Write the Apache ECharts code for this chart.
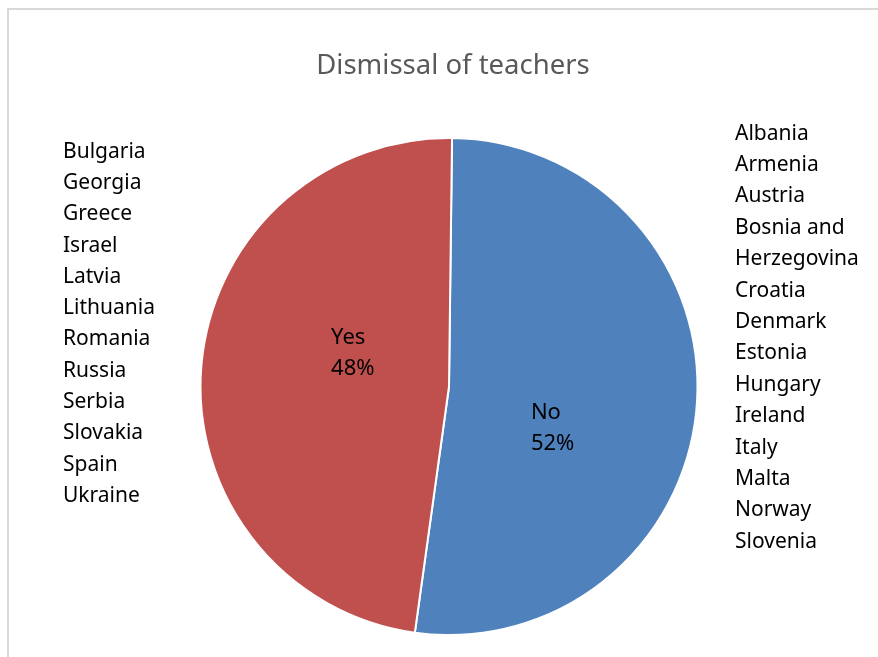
<!DOCTYPE html>
<html>
<head>
<meta charset="utf-8">
<script src="https://cdn.jsdelivr.net/npm/echarts@6/dist/echarts.min.js"></script>
<style>html,body{margin:0;padding:0;background:#fff;}#chart{width:878px;height:657px;}</style>
</head>
<body>
<div id="chart"></div>
<script>
var titleText = 'Dismissal of teachers';
var categories = ['No', 'Yes'];
var values = [13, 12];
var yesCountries = ['Bulgaria', 'Georgia', 'Greece', 'Israel', 'Latvia', 'Lithuania', 'Romania', 'Russia', 'Serbia', 'Slovakia', 'Spain', 'Ukraine'];
var noCountries = ['Albania', 'Armenia', 'Austria', 'Bosnia and Herzegovina', 'Croatia', 'Denmark', 'Estonia', 'Hungary', 'Ireland', 'Italy', 'Malta', 'Norway', 'Slovenia'];

var colors = ['#4F81BD', '#C0504D'];
var labelOffsets = [[-21, 32], [33, -24]];
var FONT = 'Noto Sans';

var chart = echarts.init(document.getElementById('chart'), null, {renderer: 'canvas'});
var option = {
  animation: false,
  backgroundColor: '#ffffff',
  title: {
    text: titleText,
    left: 448, top: 47, textAlign: 'center',
    textStyle: {fontFamily: FONT, fontSize: 27.5, fontWeight: 'normal', color: '#595959'}
  },
  graphic: [
    {type: 'rect', shape: {x: 8, y: 9, width: 900, height: 700}, style: {fill: 'none', stroke: '#d9d9d9', lineWidth: 2}, silent: true},
    {type: 'text', left: 63, top: 136, style: {text: yesCountries.join('\n'), font: '21px "Noto Sans"', lineHeight: 31.3, fill: '#000'}},
    {type: 'text', left: 735, top: 118, style: {text: noCountries.join('\n'), font: '21px "Noto Sans"', lineHeight: 31.4, fill: '#000', width: 140, overflow: 'break'}}
  ],
  series: [{
    type: 'pie',
    center: [449, 386.5],
    radius: 248.5,
    startAngle: 89.3,
    clockwise: true,
    itemStyle: {borderColor: '#ffffff', borderWidth: 2},
    label: {
      show: true, position: 'inside',
      formatter: '{a|{b}}\n{a|{d}%}',
      rich: {a: {fontFamily: FONT, fontSize: 22, color: '#000', width: 48, align: 'left', lineHeight: 31}}
    },
    labelLine: {show: false},
    emphasis: {disabled: true},
    data: categories.map(function (c, i) {
      return {name: c, value: values[i], itemStyle: {color: colors[i]}, label: {offset: labelOffsets[i]}};
    })
  }]
};
chart.setOption(option);
</script>
</body>
</html>
